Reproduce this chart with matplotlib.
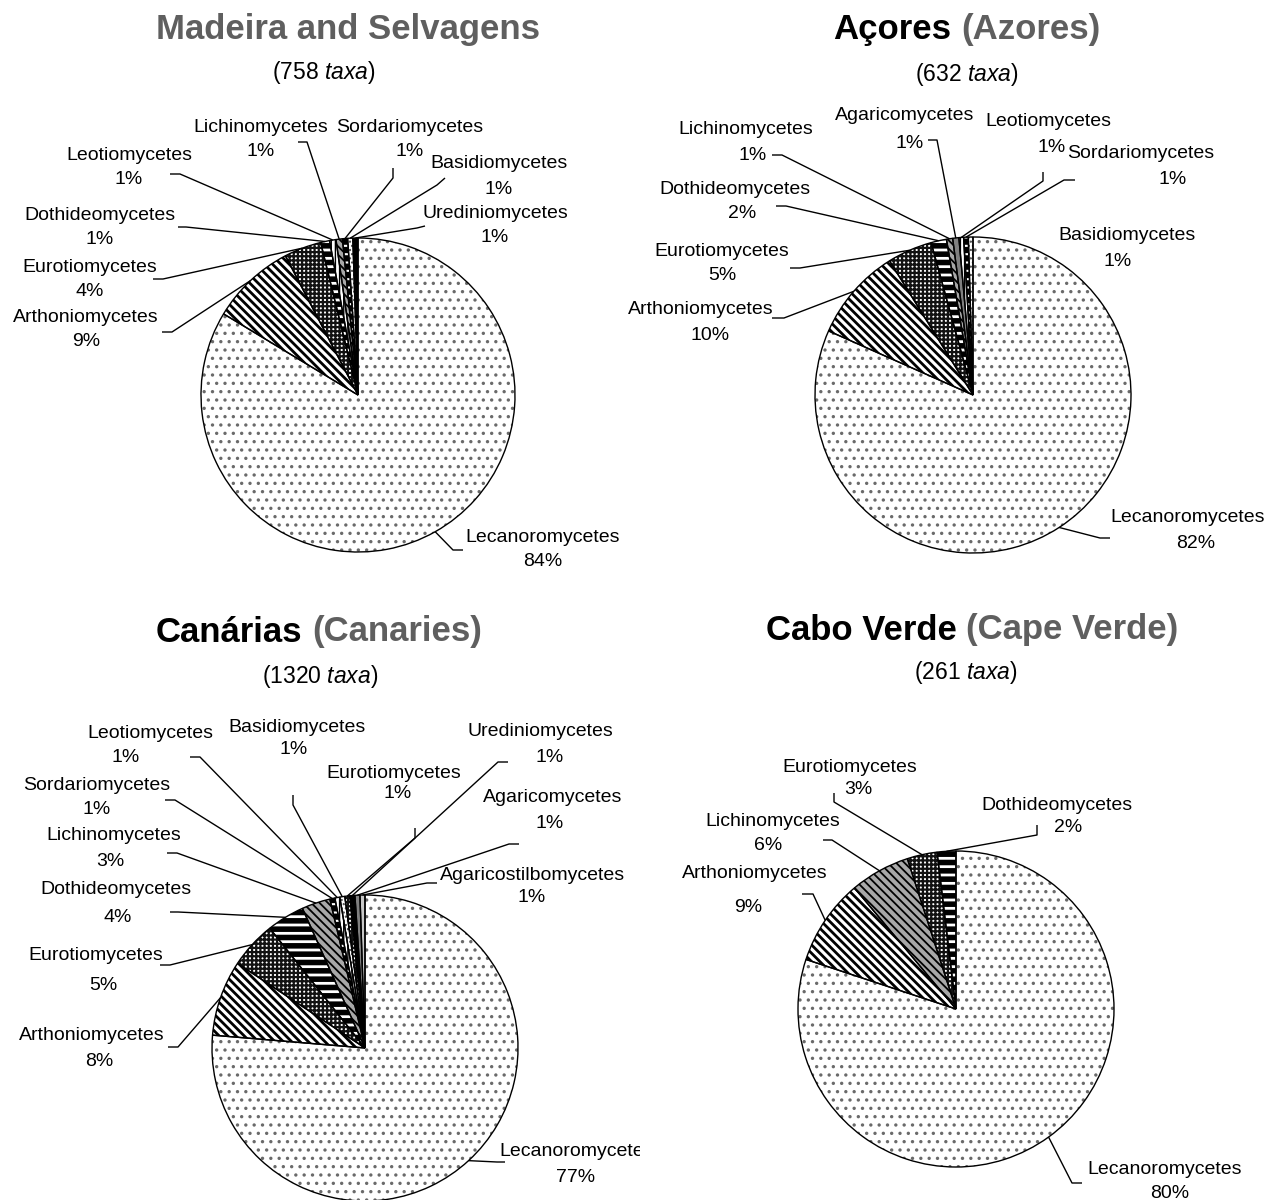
import matplotlib
matplotlib.use("Agg")
import matplotlib.pyplot as plt
import numpy as np
from matplotlib.transforms import Bbox, TransformedBbox

# ---------------- data ----------------
madeira_classes = ["Lecanoromycetes", "Arthoniomycetes", "Eurotiomycetes", "Dothideomycetes",
                   "Leotiomycetes", "Lichinomycetes", "Sordariomycetes", "Basidiomycetes",
                   "Urediniomycetes"]
madeira_counts = [634, 66, 29, 7, 5, 5, 4, 4, 4]
madeira_pcts = ["84%", "9%", "4%", "1%", "1%", "1%", "1%", "1%", "1%"]
madeira_total = 758

azores_classes = ["Lecanoromycetes", "Arthoniomycetes", "Eurotiomycetes", "Dothideomycetes",
                  "Lichinomycetes", "Agaricomycetes", "Leotiomycetes", "Sordariomycetes",
                  "Basidiomycetes"]
azores_counts = [516, 60, 29, 10, 4, 4, 3, 3, 3]
azores_pcts = ["82%", "10%", "5%", "2%", "1%", "1%", "1%", "1%", "1%"]
azores_total = 632

canaries_classes = ["Lecanoromycetes", "Arthoniomycetes", "Eurotiomycetes", "Dothideomycetes",
                    "Lichinomycetes", "Sordariomycetes", "Leotiomycetes", "Basidiomycetes",
                    "Eurotiomycetes", "Urediniomycetes", "Agaricomycetes", "Agaricostilbomycetes"]
canaries_counts = [1013, 106, 66, 53, 40, 7, 7, 7, 7, 7, 7, 7]
canaries_pcts = ["77%", "8%", "5%", "4%", "3%", "1%", "1%", "1%", "1%", "1%", "1%", "1%"]
canaries_total = 1320

capeverde_classes = ["Lecanoromycetes", "Arthoniomycetes", "Lichinomycetes", "Eurotiomycetes",
                     "Dothideomycetes"]
capeverde_counts = [209, 23, 16, 8, 5]
capeverde_pcts = ["80%", "9%", "6%", "3%", "2%"]
capeverde_total = 261

# ---------------- styles ----------------
FONT = "Liberation Sans"
GRAY = "#5f5f5f"
W, H = 1266, 1200
plt.rcParams["font.family"] = [FONT, "DejaVu Sans"]
plt.rcParams["mathtext.fontset"] = "custom"
plt.rcParams["mathtext.rm"] = FONT
plt.rcParams["mathtext.it"] = FONT + ":italic"
plt.rcParams["hatch.linewidth"] = 1.5

STYLE = {
    "Lecanoromycetes": dict(fc="white", hc="#6a6a6a", hatch="..", hlw=1.2),
    "Arthoniomycetes": dict(fc="white", hc="black", hatch="\\\\\\\\", hlw=2.0),
    "Eurotiomycetes": dict(fc="white", hc="#111111", hatch="++++", hlw=1.6),
    "Dothideomycetes": dict(fc="white", hc="black", hatch="--", hlw=4.0),
    "Lichinomycetes": dict(fc="#a8a8a8", hc="black", hatch="\\\\\\\\", hlw=1.3),
    "Leotiomycetes": dict(fc="white", hc="black", hatch="||||", hlw=1.0),
    "Sordariomycetes": dict(fc="black", hc="white", hatch="--", hlw=1.5),
    "Basidiomycetes": dict(fc="white", hc="#444444", hatch="....", hlw=1.0),
    "Urediniomycetes": dict(fc="black", hc="black", hatch="", hlw=1.0),
    "Agaricomycetes": dict(fc="#808080", hc="black", hatch="", hlw=1.0),
    "Agaricostilbomycetes": dict(fc="#c8c8c8", hc="#c8c8c8", hatch="", hlw=1.0),
}

# layout (pixel coords, y from top): name pos, pct pos, leader elbow points
LAYOUT = {
    "madeira": dict(center=(358, 395), r=157, labels=[
        ((543, 537), (543, 561), [(463, 550), (453, 550)]),
        ((86, 318), (86, 342), [(162, 332), (172, 332)]),
        ((90, 267), (90, 291), [(153, 279), (163, 279)]),
        ((100, 215), (100, 239), [(178, 227), (186, 227)]),
        ((129, 155), (129, 179), [(170, 174), (180, 174)]),
        ((261, 127), (261, 151), [(298, 142), (307, 142)]),
        ((410, 127), (410, 151), [(393, 168), (393, 178)]),
        ((499, 164), (499, 189), [(445, 178), (437, 185)]),
        ((495, 213), (495, 237), [(425, 226), (417, 228)]),
    ]),
    "azores": dict(center=(973, 395), r=158, labels=[
        ((1188, 518), (1196, 543), [(1110, 538), (1100, 538)]),
        ((701, 310), (710, 335), [(772, 318), (784, 318)]),
        ((722, 251), (722, 276), [(790, 268), (800, 268)]),
        ((735, 190), (742, 214), [(776, 206), (786, 206)]),
        ((746, 130), (753, 155), [(772, 155), (782, 155)]),
        ((905, 116), (910, 143), [(928, 140), (937, 140)]),
        ((1048, 122), (1052, 147), [(1043, 172), (1043, 181)]),
        ((1141, 153), (1173, 179), [(1075, 180), (1064, 180)]),
        ((1127, 236), (1118, 261), None),
    ]),
    "canaries": dict(center=(365, 1048), r=153, labels=[
        ((577, 1152), (576, 1177), [(505, 1162), (497, 1162)]),
        ((92, 1035), (99, 1062), [(168, 1047), (178, 1047)]),
        ((96, 956), (103, 985), [(160, 965), (170, 965)]),
        ((116, 890), (118, 917), [(170, 912), (178, 912)]),
        ((114, 836), (110, 862), [(167, 853), (177, 853)]),
        ((97, 786), (97, 810), [(165, 800), (175, 800)]),
        ((150, 733), (126, 758), [(190, 757), (200, 757)]),
        ((297, 728), (294, 750), [(293, 795), (293, 805)]),
        ((394, 773), (398, 793), [(415, 828), (415, 838)]),
        ((540, 731), (550, 758), [(508, 762), (498, 762)]),
        ((553, 797), (550, 824), [(519, 844), (509, 844)]),
        ((533, 875), (532, 898), [(437, 883), (427, 883)]),
    ]),
    "capeverde": dict(center=(956, 1009), r=158, labels=[
        ((1165, 1169), (1170, 1193), [(1082, 1183), (1072, 1183)]),
        ((755, 873), (748, 908), [(802, 894), (813, 894)]),
        ((773, 822), (768, 845), [(823, 840), (832, 840)]),
        ((850, 767), (858, 790), [(834, 793), (834, 802)]),
        ((1057, 805), (1068, 828), [(1037, 825), (1037, 835)]),
    ]),
}

TITLES = {
    "madeira": dict(pos=(348, 30), parts=[("Madeira and Selvagens", GRAY)], sub=(324, 72)),
    "azores": dict(pos=(967, 30), parts=[("Açores", "black"), ("(Azores)", GRAY)], sub=(967, 75)),
    "canaries": dict(pos=(319, 632), parts=[("Canárias", "black"), ("(Canaries)", GRAY)], sub=(320, 677)),
    "capeverde": dict(pos=(972, 630), parts=[("Cabo Verde", "black"), ("(Cape Verde)", GRAY)], sub=(966, 673)),
}

fig = plt.figure(figsize=(W / 100, H / 100), dpi=100)
ax = fig.add_axes([0, 0, 1, 1])
renderer = fig.canvas.get_renderer()


def Y(y):
    return H - y


def draw_title(key, total):
    t = TITLES[key]
    x, y = t["pos"]
    parts = t["parts"]
    if len(parts) == 1:
        ax.text(x, Y(y), parts[0][0], ha="center", va="center", fontsize=25,
                fontweight="bold", color=parts[0][1])
    else:
        full = ax.text(0, 0, parts[0][0] + " " + parts[1][0], fontsize=25, fontweight="bold")
        wfull = full.get_window_extent(renderer).width
        full.remove()
        ax.text(x - wfull / 2, Y(y), parts[0][0], ha="left", va="center", fontsize=25,
                fontweight="bold", color=parts[0][1])
        ax.text(x + wfull / 2, Y(y), parts[1][0], ha="right", va="center", fontsize=25,
                fontweight="bold", color=parts[1][1])
    sx, sy = t["sub"]
    ax.text(sx, Y(sy), "(%d $\\mathit{taxa}$)" % total, ha="center", va="center",
            fontsize=16.5, color="black")


def draw_pie(key, classes, counts, pcts, total):
    lay = LAYOUT[key]
    cx, cy = lay["center"]
    r = lay["r"]
    center = (cx, Y(cy))
    fcs = [STYLE[c]["fc"] for c in classes]
    hcs = [STYLE[c]["hc"] for c in classes]
    wedges, _ = ax.pie(counts, startangle=90, counterclock=False, center=center, radius=r,
                       colors=fcs, wedgeprops=dict(linewidth=0))
    for w, c, hc in zip(wedges, classes, hcs):
        st = STYLE[c]
        w.set_edgecolor(hc)
        if st["hatch"]:
            w.set_hatch(st["hatch"])
            if hasattr(w, "set_hatch_linewidth"):
                w.set_hatch_linewidth(st["hlw"])
    ax.pie(counts, startangle=90, counterclock=False, center=center, radius=r,
           colors=["none"] * len(counts),
           wedgeprops=dict(linewidth=1.0, edgecolor="black", facecolor="none"))
    for w, c, p, lab in zip(wedges, classes, pcts, lay["labels"]):
        (nx, ny), (px, py), lead = lab
        t1 = ax.text(nx, Y(ny), c, ha="center", va="center", fontsize=14, color="black")
        ax.text(px, Y(py), p, ha="center", va="center", fontsize=14, color="black")
        if key == "canaries" and c == "Lecanoromycetes":
            clip = TransformedBbox(Bbox([[0, 0], [640, H]]), ax.transData)
            t1.set_clip_box(clip)
            t1.set_clip_on(True)
        if lead:
            mid = np.deg2rad((w.theta1 + w.theta2) / 2)
            ax_ = center[0] + r * np.cos(mid)
            ay_ = center[1] + r * np.sin(mid)
            xs = [pt[0] for pt in lead] + [ax_]
            ys = [Y(pt[1]) for pt in lead] + [ay_]
            ax.plot(xs, ys, color="black", linewidth=1.0, solid_capstyle="butt")
    draw_title(key, total)


draw_pie("madeira", madeira_classes, madeira_counts, madeira_pcts, madeira_total)
draw_pie("azores", azores_classes, azores_counts, azores_pcts, azores_total)
draw_pie("canaries", canaries_classes, canaries_counts, canaries_pcts, canaries_total)
draw_pie("capeverde", capeverde_classes, capeverde_counts, capeverde_pcts, capeverde_total)

ax.set_xlim(0, W)
ax.set_ylim(0, H)
ax.set_aspect("auto")
ax.axis("off")
fig.savefig("out.png", dpi=100)
